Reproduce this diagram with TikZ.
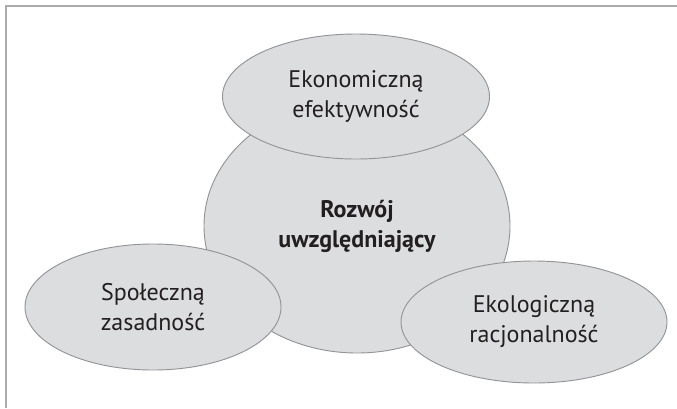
\documentclass[tikz,border=0pt]{standalone}
\usepackage{fontspec}
\setmainfont{PT Sans}
\usepackage{tikz}
\usetikzlibrary{shapes.geometric}

\definecolor{ringfill}{HTML}{DCDDDF}
\definecolor{ringline}{HTML}{929497}
\definecolor{framegray}{HTML}{ABABAB}
\definecolor{inkgray}{HTML}{231F20}

\tikzset{
  ring/.style={ellipse, draw=ringline, fill=ringfill, line width=0.7pt,
    inner sep=0pt, align=center, text=inkgray,
    font=\fontsize{18}{22.5}\selectfont},
}

\begin{document}
\begin{tikzpicture}[x=0.75pt,y=-0.75pt]
            \useasboundingbox (0,0) rectangle (677,408);
            \draw[framegray,line width=1.6pt] (6,408)--(6,6)--(677,6);
            % middle one first, the three others lie over it
            \node[ring,minimum width=229.5pt,minimum height=190.5pt,font=\fontsize{18}{22.5}\selectfont\bfseries] (core) at (357,226) {Rozwój\\uwzględniający};
            \node[ring,minimum width=200.25pt,minimum height=93.75pt] (econ) at (356,96.5) {Ekonomiczną\\efektywność};
            \node[ring,minimum width=192pt,minimum height=94.5pt] (soc) at (153,307) {Społeczną\\zasadność};
            \node[ring,minimum width=199.5pt,minimum height=91.5pt] (eco) at (534,322) {Ekologiczną\\racjonalność};
        \end{tikzpicture}
\end{document}
